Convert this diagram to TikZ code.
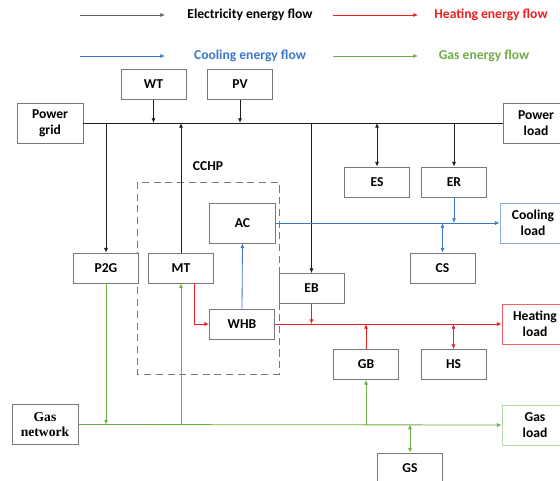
\documentclass[tikz,border=0pt]{standalone}
\usepackage{fontspec}
\setmainfont{Carlito}
\newfontfamily\gasfont{Liberation Serif}[BoldFont={Liberation Serif Bold}]
\usepackage{tikz}
\usetikzlibrary{arrows.meta,positioning,calc}
\usepackage{xcolor}
\definecolor{elec}{RGB}{30,30,30}
\definecolor{heat}{RGB}{240,30,30}
\definecolor{cool}{RGB}{60,120,200}
\definecolor{gas}{RGB}{112,173,71}
\definecolor{edge}{RGB}{120,120,120}

\begin{document}
\begin{tikzpicture}[
            x=0.03cm, y=-0.03cm,
            font=\bfseries\fontsize{11.6}{13.5}\selectfont,
            block/.style={rectangle, draw=edge, line width=0.7pt, fill=white, align=center, inner sep=1pt},
            small/.style={block, minimum width=1.95cm, minimum height=0.9cm},
            big/.style={block, minimum width=1.98cm, minimum height=1.2cm},
            arrow/.style={-{Latex[length=4pt,width=3.5pt]}, line width=0.7pt},
            both/.style={{Latex[length=4pt,width=3.5pt]}-{Latex[length=4pt,width=3.5pt]}, line width=0.7pt},
            bus/.style={line width=0.7pt}
        ]
            \useasboundingbox (0,0) rectangle (560,481);

            % legend
            \coordinate (le1) at (80,15);  \coordinate (le2) at (165,15);
            \coordinate (lh1) at (333,15); \coordinate (lh2) at (418,15);
            \coordinate (lc1) at (80,56);  \coordinate (lc2) at (165,56);
            \coordinate (lg1) at (333,56); \coordinate (lg2) at (418,56);
            \node (legE) at (250,15) {Electricity energy flow};
            \node[text=heat] (legH) at (491,15) {Heating energy flow};
            \node[text=cool] (legC) at (250,56) {Cooling energy flow};
            \node[text=gas] (legG) at (484,56) {Gas energy flow};
            \draw[arrow, elec!70] (le1) -- (le2);
            \draw[arrow, heat] (lh1) -- (lh2);
            \draw[arrow, cool] (lc1) -- (lc2);
            \draw[arrow, gas] (lg1) -- (lg2);

            % CCHP frame
            \draw[dashed, edge, line width=0.8pt, dash pattern=on 6pt off 4pt] (137,182) rectangle (279,374);
            \node (cchp) at (208,166) {CCHP};

            % units
            \node[small] (wt) at (153.5,84.5) {WT};
            \node[small] (pv) at (240,84.5) {PV};
            \node[big] (grid) at (50,123) {Power\\grid};
            \node[big] (pload) at (536,123) {Power\\load};
            \node[small] (es) at (377,182) {ES};
            \node[small] (er) at (454,182) {ER};
            \node[big] (ac) at (242.5,223) {AC};
            \node[big, draw=cool!60] (cload) at (533,223) {Cooling\\load};
            \node[small] (p2g) at (106,268) {P2G};
            \node[small] (mt) at (181,268) {MT};
            \node[small] (cs) at (442.5,268) {CS};
            \node[small] (eb) at (311.5,288.5) {EB};
            \node[small] (whb) at (242,324) {WHB};
            \node[big, draw=heat!70] (hload) at (535,324) {Heating\\load};
            \node[small] (gb) at (366,364.5) {GB};
            \node[small] (hs) at (453.5,364.5) {HS};
            \node[big, font=\gasfont\bfseries\fontsize{11.6}{13.5}\selectfont] (gasnet) at (45,424.5) {\gasfont Gas\\\gasfont network};
            \node[big, draw=gas!50] (gload) at (535,425) {Gas\\load};
            \node[small] (gs) at (410,468) {GS};

            % electricity
            \draw[bus, elec] (grid.east) -- (pload.west);
            \draw[arrow, elec] (wt.south) -- (wt.south |- grid.east);
            \draw[arrow, elec] (pv.south) -- (pv.south |- grid.east);
            \draw[arrow, elec] (mt.north) -- (mt.north |- grid.east);
            \draw[arrow, elec] (p2g.north |- grid.east) -- (p2g.north);
            \draw[arrow, elec] (eb.north |- grid.east) -- (eb.north);
            \draw[both, elec] (es.north |- grid.east) -- (es.north);
            \draw[arrow, elec] (er.north |- grid.east) -- (er.north);

            % cooling
            \draw[arrow, cool] (whb.north) -- (ac.south);
            \draw[arrow, cool] (ac.east) -- (cload.west);
            \draw[arrow, cool] (er.south) -- (er.south |- ac.east);
            \draw[both, cool] (cs.north |- ac.east) -- (cs.north);

            % heating
            \draw[arrow, heat] ($(mt.south)+(13,0)$) |- (whb.west);
            \draw[arrow, heat] (whb.east) -- (hload.west);
            \draw[arrow, heat] (eb.south) -- (eb.south |- whb.east);
            \draw[arrow, heat] (gb.north) -- (gb.north |- whb.east);
            \draw[both, heat] (hs.north |- whb.east) -- (hs.north);

            % gas
            \draw[arrow, gas] (gasnet.east) -- (gload.west);
            \draw[arrow, gas] (p2g.south) -- (p2g.south |- gasnet.east);
            \draw[arrow, gas] (mt.south |- gasnet.east) -- (mt.south);
            \draw[arrow, gas] (gb.south |- gasnet.east) -- (gb.south);
            \draw[both, gas] (gs.north |- gasnet.east) -- (gs.north);
        \end{tikzpicture}
\end{document}
